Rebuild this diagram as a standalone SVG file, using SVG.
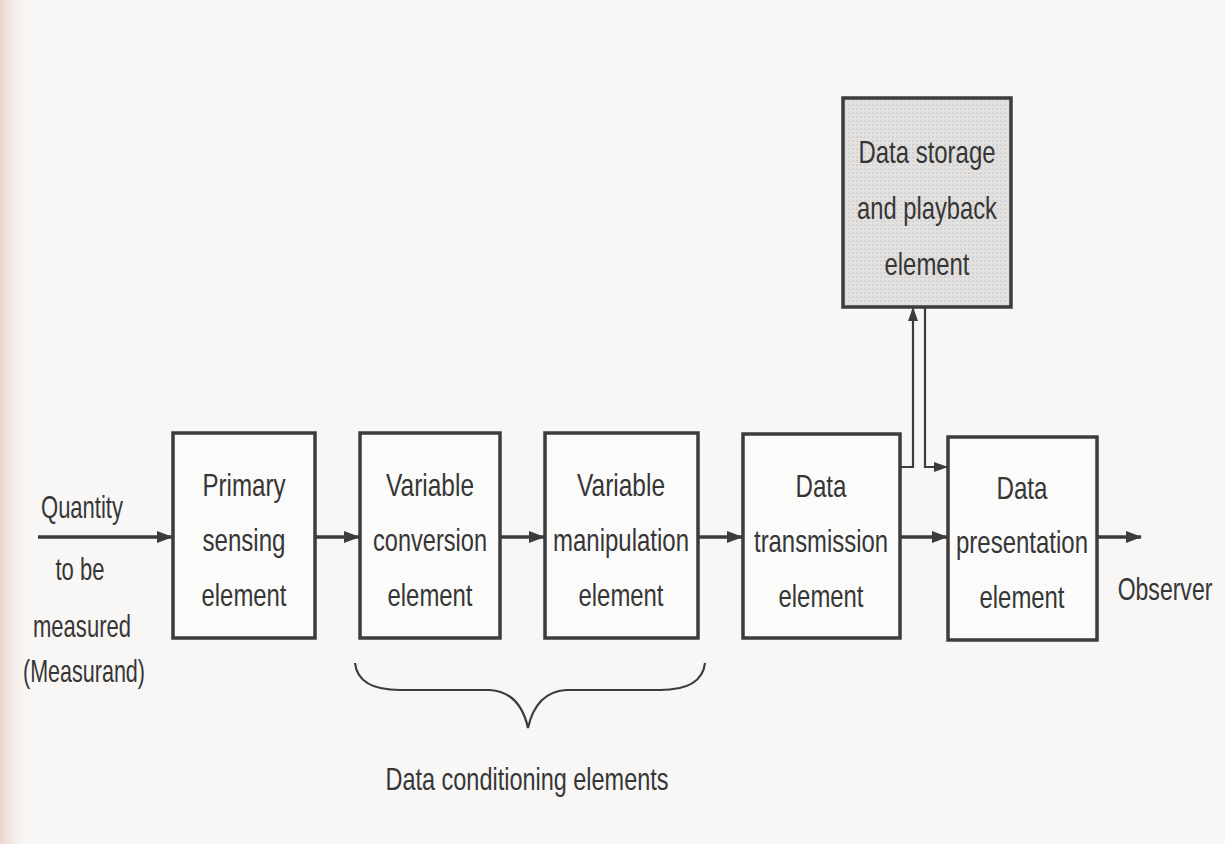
<svg xmlns="http://www.w3.org/2000/svg" width="1225" height="844" viewBox="0 0 1225 844">
<defs>
<style>
.box{fill:#fbfbfa;stroke:#3c3c3c;stroke-width:3.5}
.t{font-family:"Liberation Sans",Arial,sans-serif;font-size:32px;fill:#363636;text-anchor:middle}
.c{fill:none;stroke:#3c3c3c;stroke-width:3.5}
.thin{fill:none;stroke:#3c3c3c;stroke-width:2.2}
</style>
<marker id="ah" viewBox="0 0 16 12" refX="15" refY="6" markerWidth="16" markerHeight="12" markerUnits="userSpaceOnUse" orient="auto">
<path d="M0,0 L16,6 L0,12 Z" fill="#3c3c3c"/>
</marker>
<marker id="ahs" viewBox="0 0 14 10" refX="13" refY="5" markerWidth="14" markerHeight="10" markerUnits="userSpaceOnUse" orient="auto">
<path d="M0,0 L14,5 L0,10 Z" fill="#3c3c3c"/>
</marker>
<pattern id="dots" width="4" height="4" patternUnits="userSpaceOnUse">
<rect width="4" height="4" fill="#e2e1e0"/>
<circle cx="1" cy="1" r="0.8" fill="#c4c3c2"/>
</pattern>
<linearGradient id="edge" x1="0" y1="0" x2="1" y2="0">
<stop offset="0" stop-color="#ecd3cc"/>
<stop offset="1" stop-color="#f8f7f5" stop-opacity="0"/>
</linearGradient>
</defs>
<rect width="1225" height="844" fill="#f8f7f5"/>
<rect width="30" height="844" fill="url(#edge)"/>

<g id="connectors">
<line class="c" x1="38" y1="537" x2="172" y2="537" marker-end="url(#ah)"/>
<line class="c" x1="315" y1="537" x2="359" y2="537" marker-end="url(#ah)"/>
<line class="c" x1="500" y1="537" x2="544" y2="537" marker-end="url(#ah)"/>
<line class="c" x1="698" y1="537" x2="742" y2="537" marker-end="url(#ah)"/>
<line class="c" x1="900" y1="537" x2="947" y2="537" marker-end="url(#ah)"/>
<line class="c" x1="1097" y1="537" x2="1141" y2="537" marker-end="url(#ah)"/>
<polyline class="thin" points="900,467 913,467 913,308" marker-end="url(#ahs)"/>
<polyline class="thin" points="925,308 925,467 947,467" marker-end="url(#ahs)"/>
<path class="thin" stroke-width="2.5" d="M355,663 Q358,690 400,690 L490,690 Q520,692 528,728 Q536,692 566,690 L660,690 Q702,690 705,663"/>
</g>

<g id="input">
<text class="t" x="82" y="518" textLength="82" lengthAdjust="spacingAndGlyphs">Quantity</text>
<text class="t" x="80" y="580" textLength="49" lengthAdjust="spacingAndGlyphs">to be</text>
<text class="t" x="82" y="637" textLength="98" lengthAdjust="spacingAndGlyphs">measured</text>
<text class="t" x="84" y="682" textLength="122" lengthAdjust="spacingAndGlyphs">(Measurand)</text>
</g>

<g id="primary">
<rect class="box" x="173" y="433" width="142" height="205"/>
<text class="t" x="244" y="496" textLength="83" lengthAdjust="spacingAndGlyphs">Primary</text>
<text class="t" x="244" y="551" textLength="83" lengthAdjust="spacingAndGlyphs">sensing</text>
<text class="t" x="244" y="606" textLength="85" lengthAdjust="spacingAndGlyphs">element</text>
</g>

<g id="conversion">
<rect class="box" x="360" y="433" width="140" height="205"/>
<text class="t" x="430" y="496" textLength="88" lengthAdjust="spacingAndGlyphs">Variable</text>
<text class="t" x="430" y="551" textLength="114" lengthAdjust="spacingAndGlyphs">conversion</text>
<text class="t" x="430" y="606" textLength="85" lengthAdjust="spacingAndGlyphs">element</text>
</g>

<g id="manipulation">
<rect class="box" x="545" y="433" width="153" height="205"/>
<text class="t" x="621" y="496" textLength="88" lengthAdjust="spacingAndGlyphs">Variable</text>
<text class="t" x="621" y="551" textLength="136" lengthAdjust="spacingAndGlyphs">manipulation</text>
<text class="t" x="621" y="606" textLength="85" lengthAdjust="spacingAndGlyphs">element</text>
</g>

<g id="transmission">
<rect class="box" x="743" y="434" width="157" height="204"/>
<text class="t" x="821" y="497" textLength="51" lengthAdjust="spacingAndGlyphs">Data</text>
<text class="t" x="821" y="552" textLength="134" lengthAdjust="spacingAndGlyphs">transmission</text>
<text class="t" x="821" y="607" textLength="85" lengthAdjust="spacingAndGlyphs">element</text>
</g>

<g id="presentation">
<rect class="box" x="948" y="437" width="149" height="203"/>
<text class="t" x="1022" y="499" textLength="51" lengthAdjust="spacingAndGlyphs">Data</text>
<text class="t" x="1022" y="553" textLength="132" lengthAdjust="spacingAndGlyphs">presentation</text>
<text class="t" x="1022" y="608" textLength="85" lengthAdjust="spacingAndGlyphs">element</text>
</g>

<g id="storage">
<rect class="box" style="fill:url(#dots)" x="843" y="98" width="168" height="209"/>
<text class="t" x="927" y="163" textLength="137" lengthAdjust="spacingAndGlyphs">Data storage</text>
<text class="t" x="927" y="219" textLength="140" lengthAdjust="spacingAndGlyphs">and playback</text>
<text class="t" x="927" y="275" textLength="85" lengthAdjust="spacingAndGlyphs">element</text>
</g>

<g id="observer">
<text class="t" transform="translate(1165,600) scale(0.72,1)" x="0" y="0">Observer</text>
</g>

<g id="conditioning">
<text class="t" x="527" y="790" textLength="283" lengthAdjust="spacingAndGlyphs">Data conditioning elements</text>
</g>
</svg>
